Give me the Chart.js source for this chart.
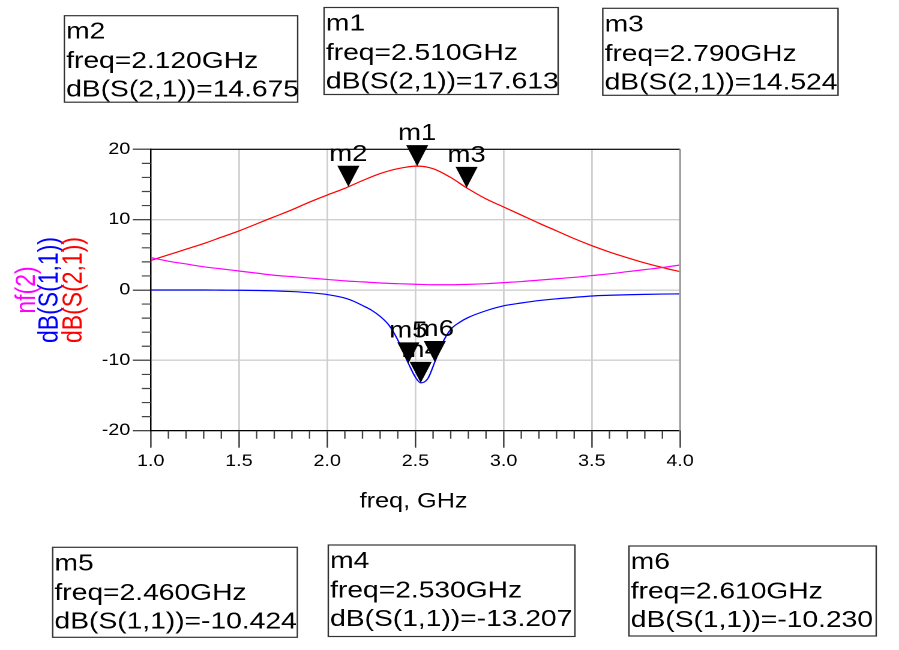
<!DOCTYPE html>
<html>
<head>
<meta charset="utf-8">
<script src="https://cdn.jsdelivr.net/npm/chart.js@4.4.1/dist/chart.umd.min.js"></script>
<style>
  body { margin: 0; background: #fff; overflow: hidden; }
  /* the plot is laid out 749px wide and stretched to fill the 899px page */
  #wrap { position: relative; width: 749px; height: 650px; transform: scaleX(1.20027); transform-origin: 0 0; }
</style>
</head>
<body>
<div id="wrap"><canvas id="sparam"></canvas></div>
<script>
// S21 gain (dB)
var s21Freq = [1.0, 1.1, 1.2, 1.3, 1.4, 1.5, 1.6, 1.7, 1.8, 1.9, 2.0, 2.1, 2.12, 2.2, 2.3, 2.4, 2.51,
               2.6, 2.7, 2.79, 2.9, 3.0, 3.1, 3.2, 3.3, 3.4, 3.5, 3.6, 3.7, 3.8, 3.9, 4.0];
var s21Db = [4.2, 5.0, 5.8, 6.6, 7.5, 8.4, 9.4, 10.4, 11.4, 12.5, 13.5, 14.45, 14.675, 15.55, 16.55, 17.25, 17.613,
             17.25, 16.0, 14.524, 12.95, 11.8, 10.65, 9.5, 8.4, 7.3, 6.3, 5.4, 4.6, 3.85, 3.2, 2.6];

// S11 return loss (dB)
var s11Freq = [1.0, 1.1, 1.2, 1.3, 1.4, 1.5, 1.6, 1.7, 1.8, 1.9, 2.0, 2.1, 2.15, 2.2, 2.25, 2.3, 2.35, 2.4,
               2.46, 2.5, 2.53, 2.57, 2.61, 2.65, 2.7, 2.75, 2.8, 2.9, 3.0, 3.1, 3.2, 3.3, 3.4, 3.5, 3.6, 3.7, 3.8, 3.9, 4.0];
var s11Db = [0, 0, 0, 0, -0.02, -0.04, -0.07, -0.12, -0.22, -0.38, -0.65, -1.15, -1.6, -2.2, -2.85, -3.75, -5.0, -7.1,
             -10.424, -12.4, -13.207, -12.6, -10.23, -7.7, -5.6, -4.6, -3.9, -2.95, -2.25, -1.85, -1.5, -1.25, -1.05, -0.85, -0.75, -0.68, -0.62, -0.58, -0.55];

// noise figure nf(2)
var nfFreq = [1.0, 1.1, 1.2, 1.3, 1.4, 1.5, 1.6, 1.7, 1.8, 1.9, 2.0, 2.1, 2.2, 2.3, 2.4, 2.5,
              2.6, 2.7, 2.8, 2.9, 3.0, 3.1, 3.2, 3.3, 3.4, 3.5, 3.6, 3.7, 3.8, 3.9, 4.0];
var nfVal = [4.6, 4.1, 3.7, 3.3, 3.0, 2.7, 2.4, 2.1, 1.9, 1.7, 1.5, 1.3, 1.15, 1.0, 0.9, 0.82,
             0.75, 0.75, 0.8, 0.9, 1.05, 1.2, 1.4, 1.6, 1.8, 2.05, 2.3, 2.6, 2.9, 3.2, 3.55];

// markers
var markerName = ['m1', 'm2', 'm3', 'm4', 'm5', 'm6'];
var markerTrace = ['S(2,1)', 'S(2,1)', 'S(2,1)', 'S(1,1)', 'S(1,1)', 'S(1,1)'];
var markerFreq = [2.510, 2.120, 2.790, 2.530, 2.460, 2.610];
var markerDb = [17.613, 14.675, 14.524, -13.207, -10.424, -10.230];

// axis ticks
var freqTicks = [1.0, 1.5, 2.0, 2.5, 3.0, 3.5, 4.0];
var dbTicks = [-20, -10, 0, 10, 20];

var FONT = '"Liberation Sans", Arial, sans-serif';

// readout box placement
var boxPos = {
    m1: { x: 270, y: 7.5, w: 195, h: 87 },
    m2: { x: 53.6, y: 15.7, w: 194.4, h: 86.5 },
    m3: { x: 502.2, y: 8.3, w: 196, h: 87 },
    m4: { x: 273.5, y: 545, w: 205.5, h: 91.5 },
    m5: { x: 43.9, y: 547.3, w: 203.8, h: 90 },
    m6: { x: 524, y: 546, w: 206, h: 90 }
};

function pairs(xs, ys) {
    var out = [];
    for (var i = 0; i < xs.length; i++) out.push({ x: xs[i], y: ys[i] });
    return out;
}

function triangle(ctx, px, py) {
    ctx.beginPath();
    ctx.moveTo(px, py);
    ctx.lineTo(px - 9.2, py - 21);
    ctx.lineTo(px + 9.2, py - 21);
    ctx.closePath();
    ctx.fill();
}

var adsPlot = {
    id: 'adsPlot',
    afterDatasetsDraw: function (chart) {
        var ctx = chart.ctx, x = chart.scales.x, y = chart.scales.y;
        ctx.save();
        ctx.fillStyle = '#000';
        for (var i = 0; i < markerName.length; i++) {
            triangle(ctx, x.getPixelForValue(markerFreq[i]), y.getPixelForValue(markerDb[i]));
        }
        ctx.font = '23px ' + FONT;
        ctx.textAlign = 'center';
        ctx.textBaseline = 'alphabetic';
        for (var i = 0; i < markerName.length; i++) {
            ctx.fillText(markerName[i], x.getPixelForValue(markerFreq[i]), y.getPixelForValue(markerDb[i]) - 26);
        }
        ctx.restore();
    },
    afterDraw: function (chart) {
        var ctx = chart.ctx, a = chart.chartArea, x = chart.scales.x, y = chart.scales.y;
        ctx.save();

        // minor ticks
        ctx.strokeStyle = '#444';
        ctx.lineWidth = 1.2;
        ctx.beginPath();
        for (var v = -20; v <= 20; v += 2) {
            if (v % 10 === 0) continue;
            var py = y.getPixelForValue(v);
            ctx.moveTo(a.left - 7.5, py);
            ctx.lineTo(a.left, py);
        }
        for (var k = 10; k <= 40; k++) {
            if (k % 5 === 0) continue;
            var px = x.getPixelForValue(k / 10);
            ctx.moveTo(px, a.bottom);
            ctx.lineTo(px, a.bottom + 8);
        }
        ctx.stroke();

        // top and right edges of the plot frame
        ctx.strokeStyle = '#000';
        ctx.lineWidth = 1.2;
        ctx.beginPath();
        ctx.moveTo(a.left, a.top);
        ctx.lineTo(a.right, a.top);
        ctx.stroke();
        ctx.strokeStyle = '#a0a0a0';
        ctx.lineWidth = 1.8;
        ctx.beginPath();
        ctx.moveTo(a.right, a.top);
        ctx.lineTo(a.right, a.bottom);
        ctx.stroke();

        // x axis title
        ctx.fillStyle = '#000';
        ctx.font = '21px ' + FONT;
        ctx.textAlign = 'center';
        ctx.textBaseline = 'alphabetic';
        ctx.fillText('freq, GHz', (a.left + a.right) / 2 - 1.5, 507.5);

        // y axis title, one line per trace
        var yTitles = [['nf(2)', '#ff00ff', 22.5], ['dB(S(1,1))', '#0000ff', 41.5], ['dB(S(2,1))', '#ff0000', 61.5]];
        ctx.font = '23px ' + FONT;
        ctx.textBaseline = 'middle';
        yTitles.forEach(function (t) {
            ctx.save();
            ctx.translate(t[2], (a.top + a.bottom) / 2);
            ctx.rotate(-Math.PI / 2);
            ctx.fillStyle = t[1];
            ctx.fillText(t[0], 0, 0);
            ctx.restore();
        });

        // marker readout boxes
        ctx.font = '23.5px ' + FONT;
        ctx.textAlign = 'left';
        ctx.textBaseline = 'alphabetic';
        for (var i = 0; i < markerName.length; i++) {
            var b = boxPos[markerName[i]];
            ctx.strokeStyle = '#333';
            ctx.lineWidth = 1.2;
            ctx.strokeRect(b.x, b.y, b.w, b.h);
            ctx.fillStyle = '#000';
            ctx.fillText(markerName[i], b.x + 1.5, b.y + 23);
            ctx.fillText('freq=' + markerFreq[i].toFixed(3) + 'GHz', b.x + 1.5, b.y + 52.5);
            ctx.fillText('dB(' + markerTrace[i] + ')=' + markerDb[i].toFixed(3), b.x + 1.5, b.y + 81);
        }
        ctx.restore();
    }
};

var lineStyle = { pointRadius: 0, borderWidth: 1.2, cubicInterpolationMode: 'monotone', fill: false };

new Chart(document.getElementById('sparam'), {
    type: 'line',
    data: {
        datasets: [
            Object.assign({ label: 'nf(2)', data: pairs(nfFreq, nfVal), borderColor: '#ff00ff' }, lineStyle),
            Object.assign({ label: 'dB(S(1,1))', data: pairs(s11Freq, s11Db), borderColor: '#0000ff' }, lineStyle),
            Object.assign({ label: 'dB(S(2,1))', data: pairs(s21Freq, s21Db), borderColor: '#ff0000' }, lineStyle)
        ]
    },
    options: {
        responsive: true,
        maintainAspectRatio: false,
        devicePixelRatio: 2,
        animation: false,
        layout: { padding: { top: 149.3, right: 182.4, bottom: 0, left: 0 } },
        plugins: { legend: { display: false }, tooltip: { enabled: false } },
        scales: {
            x: {
                type: 'linear',
                min: 1,
                max: 4,
                afterBuildTicks: function (s) { s.ticks = freqTicks.map(function (v) { return { value: v }; }); },
                afterFit: function (s) { s.height = 650 - 430.7; },
                ticks: {
                    callback: function (v) { return v.toFixed(1); },
                    font: { size: 16.5, family: FONT },
                    color: '#000',
                    padding: 4,
                    maxRotation: 0,
                    autoSkip: false
                },
                grid: { color: '#cfcfcf', lineWidth: 1.4, tickColor: '#333', tickLength: 17, tickWidth: 1.2 },
                border: { color: '#000', width: 1.2 }
            },
            y: {
                min: -20,
                max: 20,
                afterBuildTicks: function (s) { s.ticks = dbTicks.map(function (v) { return { value: v }; }); },
                afterFit: function (s) { s.width = 125.6; },
                ticks: {
                    font: { size: 16.5, family: FONT },
                    color: '#000',
                    padding: 2
                },
                grid: { color: '#cfcfcf', lineWidth: 1.4, tickColor: '#333', tickLength: 15, tickWidth: 1.2 },
                border: { color: '#000', width: 1.2 }
            }
        }
    },
    plugins: [adsPlot]
});
</script>
</body>
</html>
